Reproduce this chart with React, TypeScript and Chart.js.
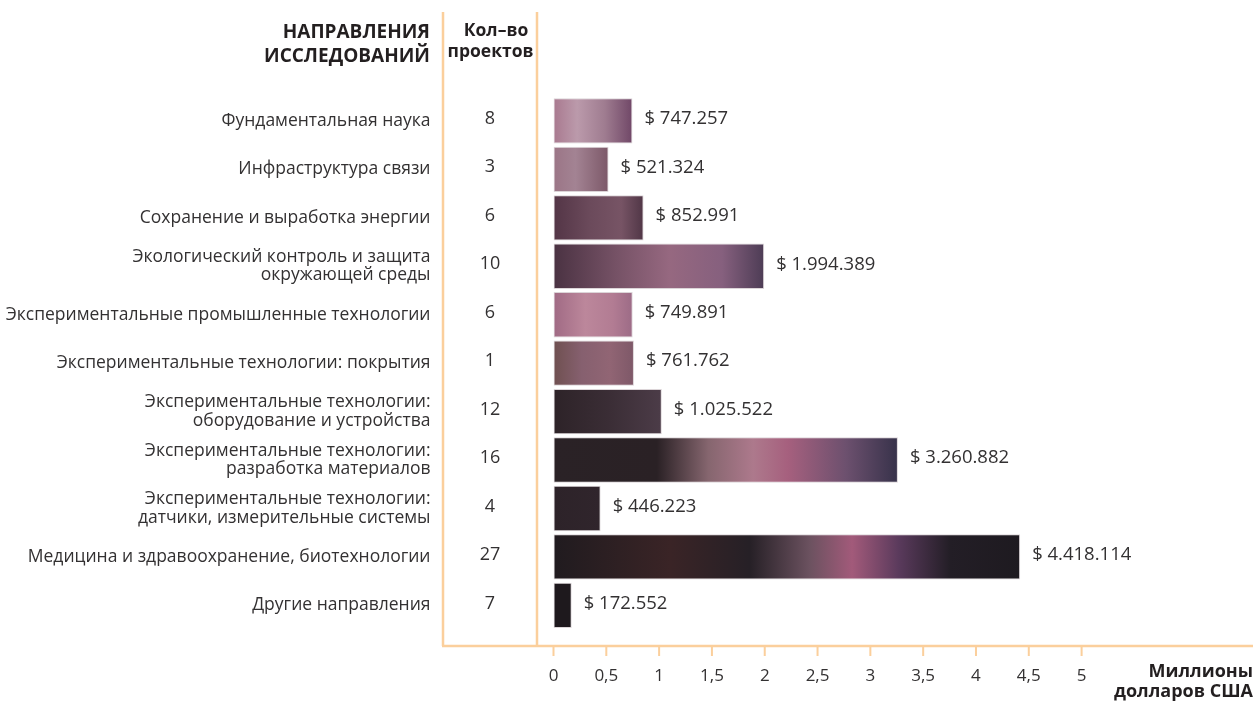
import React, { useEffect, useRef } from "react";
import { Chart, registerables } from "chart.js";

Chart.register(...registerables);

const categories: (string | string[])[] = [
  "Фундаментальная наука",
  "Инфраструктура связи",
  "Сохранение и выработка энергии",
  ["Экологический контроль и защита", "окружающей среды"],
  "Экспериментальные промышленные технологии",
  "Экспериментальные технологии: покрытия",
  ["Экспериментальные технологии:", "оборудование и устройства"],
  ["Экспериментальные технологии:", "разработка материалов"],
  ["Экспериментальные технологии:", "датчики, измерительные системы"],
  "Медицина и здравоохранение, биотехнологии",
  "Другие направления",
];

const projectCounts = [8, 3, 6, 10, 6, 1, 12, 16, 4, 27, 7];

const fundingUsd = [
  747257, 521324, 852991, 1994389, 749891, 761762, 1025522, 3260882, 446223,
  4418114, 172552,
];

const xTickValues = [0, 0.5, 1, 1.5, 2, 2.5, 3, 3.5, 4, 4.5, 5];

const headerLeft = ["НАПРАВЛЕНИЯ", "ИССЛЕДОВАНИЙ"];
const headerCount = ["Кол–во", "проектов"];
const axisTitle = ["Миллионы", "долларов США"];

// gradient colour stops for each bar (style only)
const barStops: [number, string][][] = [
  [[0, "#a9798f"], [0.3, "#bb9aab"], [0.65, "#9f7c90"], [1, "#704767"]],
  [[0, "#9b7586"], [0.4, "#a38393"], [1, "#7c5868"]],
  [[0, "#533546"], [0.4, "#6b4a5b"], [0.75, "#775465"], [1, "#503646"]],
  [[0, "#4a3242"], [0.3, "#765266"], [0.55, "#966880"], [0.8, "#86607e"], [1, "#4d3c55"]],
  [[0, "#a06a84"], [0.4, "#bc879b"], [0.75, "#b27c93"], [1, "#9c6b86"]],
  [[0, "#6f5050"], [0.35, "#86606f"], [0.7, "#916574"], [1, "#7e5868"]],
  [[0, "#2d2328"], [0.5, "#3a2d35"], [1, "#4c3c48"]],
  [[0, "#2a2226"], [0.3, "#2a2125"], [0.45, "#86666f"], [0.58, "#ad798c"], [0.68, "#a6607e"], [0.85, "#6c506e"], [1, "#37324a"]],
  [[0, "#2d2329"], [1, "#30252c"]],
  [[0, "#201b1f"], [0.25, "#3a2426"], [0.42, "#262026"], [0.55, "#6c5260"], [0.64, "#a25a7a"], [0.74, "#5a3a5c"], [0.85, "#231e26"], [1, "#1e1a20"]],
  [[0, "#1e191d"], [1, "#1e191d"]],
];

const ORANGE = "#fbcf9c";
const TEXT = "#333132";
const FONT = "'Open Sans', 'Noto Sans', sans-serif";

function fmtUsd(v: number): string {
  return "$ " + String(v).replace(/\B(?=(\d{3})+(?!\d))/g, ".");
}

const overlayPlugin = {
  id: "overlay",
  afterDraw(chart: any) {
    const { ctx } = chart;
    const xs = chart.scales.x;
    const ys = chart.scales.y;
    const axisY = 646;
    ctx.save();
    // orange frame lines
    ctx.strokeStyle = ORANGE;
    ctx.lineWidth = 2.5;
    ctx.beginPath();
    ctx.moveTo(443, 12);
    ctx.lineTo(443, axisY);
    ctx.moveTo(537, 12);
    ctx.lineTo(537, axisY);
    ctx.moveTo(442, axisY);
    ctx.lineTo(1253, axisY);
    ctx.stroke();
    ctx.lineWidth = 2;
    ctx.beginPath();
    xTickValues.forEach((v) => {
      const px = xs.getPixelForValue(v);
      ctx.moveTo(px, axisY);
      ctx.lineTo(px, axisY + 10);
    });
    ctx.stroke();

    // headers
    ctx.fillStyle = "#231f20";
    ctx.textAlign = "right";
    ctx.textBaseline = "middle";
    ctx.font = `bold 19px ${FONT}`;
    ctx.fillText(headerLeft[0], 430, 33);
    ctx.fillText(headerLeft[1], 430, 57);
    ctx.textAlign = "center";
    ctx.font = `bold 17.5px ${FONT}`;
    ctx.fillText(headerCount[0], 496, 31);
    ctx.fillText(headerCount[1], 490.5, 52);

    // counts
    ctx.fillStyle = TEXT;
    ctx.font = `18px ${FONT}`;
    projectCounts.forEach((c, i) => {
      ctx.fillText(String(c), 490, ys.getPixelForValue(i) - 2);
    });

    // value labels
    ctx.textAlign = "left";
    ctx.font = `18.5px ${FONT}`;
    fundingUsd.forEach((v, i) => {
      const px = xs.getPixelForValue(v / 1e6);
      ctx.fillText(fmtUsd(v), px + 12, ys.getPixelForValue(i) - 2);
    });

    // axis title
    ctx.fillStyle = "#231f20";
    ctx.textAlign = "right";
    ctx.font = `bold 18px ${FONT}`;
    ctx.fillText(axisTitle[0], 1253, 672);
    ctx.fillText(axisTitle[1], 1253, 692);
    ctx.restore();
  },
};

export default function App() {
  const ref = useRef<HTMLCanvasElement | null>(null);

  useEffect(() => {
    if (!ref.current) return;
    const chart = new Chart(ref.current, {
      type: "bar",
      data: {
        labels: categories,
        datasets: [
          {
            data: fundingUsd.map((v) => v / 1e6),
            backgroundColor: (c: any) => {
              const chart = c.chart;
              const xs = chart.scales?.x;
              const stops = barStops[c.dataIndex] || [[0, "#333"]];
              if (!xs || !chart.chartArea || c.type !== "data") return stops[0][1];
              const x0 = xs.getPixelForValue(0);
              const x1 = xs.getPixelForValue(fundingUsd[c.dataIndex] / 1e6);
              if (!(x1 > x0)) return stops[0][1];
              const g = chart.ctx.createLinearGradient(x0, 0, x1, 0);
              stops.forEach(([o, col]) => g.addColorStop(o, col));
              return g;
            },
            borderColor: "rgba(205,195,200,0.7)",
            borderWidth: 1,
            borderSkipped: false,
            barPercentage: 0.936,
            categoryPercentage: 1,
          },
        ],
      },
      options: {
        indexAxis: "y",
        animation: false,
        responsive: true,
        maintainAspectRatio: false,
        layout: { padding: { top: 96.7, right: 177.4, left: 0, bottom: 0 } },
        plugins: {
          legend: { display: false },
          tooltip: { enabled: false },
          title: { display: false },
        },
        scales: {
          x: {
            type: "linear",
            min: 0,
            max: 5,
            afterBuildTicks: (s: any) => {
              s.ticks = xTickValues.map((v) => ({ value: v }));
            },
            afterFit: (s: any) => {
              s.height = 702 - 629.6;
              s.paddingLeft = 0;
              s.paddingRight = 0;
              s.paddingTop = 0;
              s.paddingBottom = 0;
            },
            grid: { display: false, drawTicks: false },
            border: { display: false },
            ticks: {
              padding: 36,
              color: TEXT,
              font: { family: FONT, size: 17 },
              callback: (v: any) => String(v).replace(".", ","),
              maxRotation: 0,
              autoSkip: false,
            },
          },
          y: {
            type: "category",
            afterFit: (s: any) => {
              s.width = 553.5;
              s.paddingLeft = 0;
              s.paddingRight = 0;
              s.paddingTop = 0;
              s.paddingBottom = 0;
            },
            grid: { display: false, drawTicks: false },
            border: { display: false },
            ticks: {
              padding: 123,
              color: TEXT,
              font: { family: FONT, size: 17.5, lineHeight: 1.05 },
              autoSkip: false,
            },
          },
        },
      },
      plugins: [overlayPlugin],
    } as any);
    return () => chart.destroy();
  }, []);

  return (
    <div style={{ position: "absolute", left: 0, top: 0, width: 1259, height: 702, background: "#fff" }}>
      <canvas ref={ref} />
    </div>
  );
}
